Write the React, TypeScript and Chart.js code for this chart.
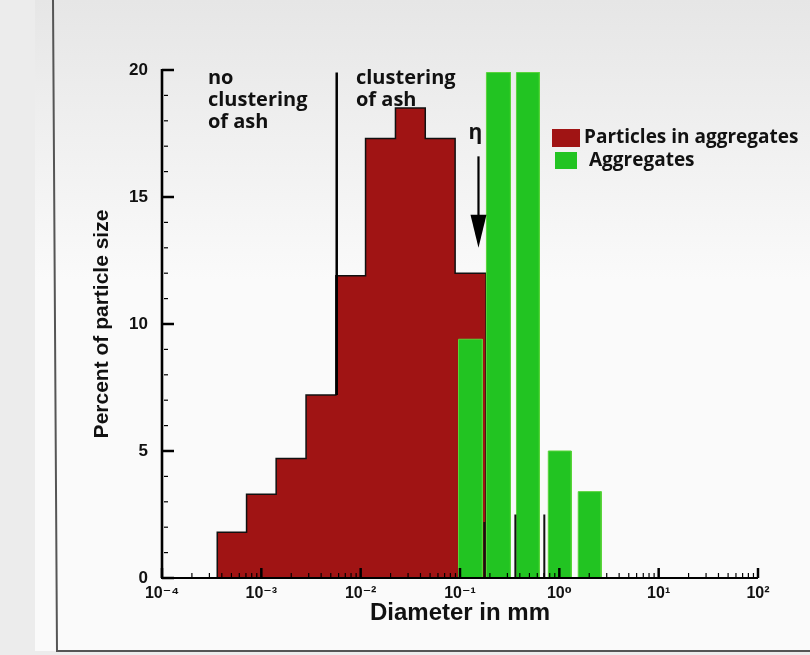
import React, { useEffect, useRef } from 'react';
import { Chart, registerables } from 'chart.js';

Chart.register(...registerables);

// ---------- data ----------
const binEdgesMm = [0.00036, 0.00071, 0.00141, 0.00282, 0.00563, 0.0112, 0.0224, 0.0447, 0.0893, 0.183];
const particlesInAggregates = [1.8, 3.3, 4.7, 7.2, 11.9, 17.3, 18.5, 17.3, 12.0];

const aggregateLeftMm = [0.0966, 0.1845, 0.37, 0.774, 1.55];
const aggregateRightMm = [0.168, 0.322, 0.63, 1.32, 2.64];
const aggregates = [9.4, 19.9, 19.9, 5.0, 3.4];

const hiddenEdgeMm = [0.176, 0.361, 0.706];
const hiddenEdgeTop = [2.2, 2.5, 2.5];

const xTickValues = [1e-4, 1e-3, 1e-2, 1e-1, 1, 10, 100];
const xTickLabels = ['10⁻⁴', '10⁻³', '10⁻²', '10⁻¹', '10⁰', '10¹', '10²'];
const yTickValues = [0, 5, 10, 15, 20];
const yTickLabels = ['0', '5', '10', '15', '20'];

const clusteringLimitMm = 0.00574;
const clusteringLineRange = [19.9, 7.2];
const etaMm = 0.1535;
const etaArrowRange = [16.6, 13.0];
const etaLabelY = 17.3;

const noClusterText = ['no', 'clustering', 'of ash'];
const clusterText = ['clustering', 'of ash'];
const noClusterXMm = 0.00029;
const clusterXMm = 0.00897;
const textRowsY = [19.45, 18.58, 17.72];

const legendLabels = ['Particles in aggregates', 'Aggregates'];

const RED = '#a01414';
const GREEN = '#22c422';
const INK = '#111111';
const SANS = "'Liberation Sans', Arial, 'DejaVu Sans', sans-serif";
const HUMANIST = "'Open Sans', 'Noto Sans', sans-serif";

// ---------- datasets built from the arrays ----------
function redPoints() {
  const pts: { x: number; y: number }[] = [{ x: binEdgesMm[0], y: 0 }];
  particlesInAggregates.forEach((v, i) => pts.push({ x: binEdgesMm[i], y: v }));
  pts.push({ x: binEdgesMm[binEdgesMm.length - 1], y: 0 });
  return pts;
}

function greenPoints() {
  const pts: { x: number; y: number }[] = [];
  aggregates.forEach((v, i) => {
    pts.push({ x: aggregateLeftMm[i], y: 0 });
    pts.push({ x: aggregateLeftMm[i], y: v });
    pts.push({ x: aggregateRightMm[i], y: v });
    pts.push({ x: aggregateRightMm[i], y: 0 });
  });
  return pts;
}

function edgePoints() {
  const pts: { x: number; y: number | null }[] = [];
  hiddenEdgeMm.forEach((x, i) => {
    pts.push({ x, y: 0 });
    pts.push({ x, y: hiddenEdgeTop[i] });
    pts.push({ x, y: null });
  });
  return pts;
}

// ---------- plugins ----------
const backgroundPlugin = {
  id: 'photoBackground',
  beforeDraw(chart: any) {
    const { ctx, width, height } = chart;
    ctx.save();
    ctx.fillStyle = '#ececec';
    ctx.fillRect(0, 0, width, height);
    const g = ctx.createLinearGradient(0, 0, 0, 280);
    g.addColorStop(0, '#e6e6e6');
    g.addColorStop(1, '#fafafa');
    ctx.fillStyle = g;
    ctx.fillRect(35, 0, width - 35, 651);
    ctx.strokeStyle = '#555';
    ctx.lineWidth = 2;
    ctx.beginPath();
    ctx.moveTo(53, 0);
    ctx.lineTo(57, 651);
    ctx.lineTo(width, 651);
    ctx.stroke();
    ctx.restore();
  },
};

const axesPlugin = {
  id: 'insideAxes',
  afterDatasetsDraw(chart: any) {
    const { ctx, chartArea, scales } = chart;
    const x = scales.x;
    const y = scales.y;
    const L = chartArea.left;
    const B = chartArea.bottom;
    ctx.save();
    ctx.strokeStyle = '#000';
    ctx.lineCap = 'butt';
    // y minor ticks
    ctx.lineWidth = 1.2;
    for (let v = 1; v < 20; v++) {
      if (v % 5 === 0) continue;
      const py = y.getPixelForValue(v);
      ctx.beginPath();
      ctx.moveTo(L + 2, py);
      ctx.lineTo(L + 6, py);
      ctx.stroke();
    }
    // x minor ticks
    for (let e = -4; e < 2; e++) {
      for (let k = 2; k <= 9; k++) {
        const px = x.getPixelForValue(k * Math.pow(10, e));
        ctx.beginPath();
        ctx.moveTo(px, B);
        ctx.lineTo(px, B - 5);
        ctx.stroke();
      }
    }
    // y major ticks
    ctx.lineWidth = 2.5;
    yTickValues.forEach((v) => {
      const py = y.getPixelForValue(v);
      ctx.beginPath();
      ctx.moveTo(L, py);
      ctx.lineTo(L + 12, py);
      ctx.stroke();
    });
    // x major ticks
    xTickValues.forEach((v) => {
      const px = x.getPixelForValue(v);
      ctx.beginPath();
      ctx.moveTo(px, B);
      ctx.lineTo(px, B - 10);
      ctx.stroke();
    });
    // axis lines
    ctx.lineWidth = 2.6;
    ctx.beginPath();
    ctx.moveTo(L, chartArea.top - 1);
    ctx.lineTo(L, B);
    ctx.stroke();
    ctx.lineWidth = 2.2;
    ctx.beginPath();
    ctx.moveTo(L - 1, B);
    ctx.lineTo(chartArea.right, B);
    ctx.stroke();
    ctx.restore();
  },
};

const annotationPlugin = {
  id: 'annotations',
  afterDatasetsDraw(chart: any) {
    const { ctx, scales } = chart;
    const x = scales.x;
    const y = scales.y;
    ctx.save();
    // clustering limit line
    const lx = x.getPixelForValue(clusteringLimitMm);
    ctx.strokeStyle = '#000';
    ctx.lineWidth = 2.5;
    ctx.beginPath();
    ctx.moveTo(lx, y.getPixelForValue(clusteringLineRange[0]));
    ctx.lineTo(lx, y.getPixelForValue(clusteringLineRange[1]));
    ctx.stroke();

    // eta arrow
    const ax = x.getPixelForValue(etaMm);
    const aTop = y.getPixelForValue(etaArrowRange[0]);
    const aTip = y.getPixelForValue(etaArrowRange[1]);
    ctx.lineWidth = 2.2;
    ctx.beginPath();
    ctx.moveTo(ax, aTop);
    ctx.lineTo(ax, aTip - 30);
    ctx.stroke();
    ctx.fillStyle = '#000';
    ctx.beginPath();
    ctx.moveTo(ax - 8, aTip - 33);
    ctx.lineTo(ax + 8, aTip - 33);
    ctx.lineTo(ax, aTip);
    ctx.closePath();
    ctx.fill();

    // texts
    ctx.fillStyle = INK;
    ctx.font = `bold 20px ${HUMANIST}`;
    ctx.textAlign = 'left';
    ctx.textBaseline = 'alphabetic';
    const nx = x.getPixelForValue(noClusterXMm);
    noClusterText.forEach((t, i) => ctx.fillText(t, nx, y.getPixelForValue(textRowsY[i])));
    const cx = x.getPixelForValue(clusterXMm);
    clusterText.forEach((t, i) => ctx.fillText(t, cx, y.getPixelForValue(textRowsY[i])));
    ctx.textAlign = 'center';
    ctx.font = `bold 21px ${HUMANIST}`;
    ctx.fillText('η', ax - 3, y.getPixelForValue(etaLabelY));
    ctx.restore();
  },
};

const legendPlugin = {
  id: 'boxLegend',
  afterDraw(chart: any) {
    const { ctx } = chart;
    ctx.save();
    ctx.fillStyle = RED;
    ctx.fillRect(552, 129, 28, 18);
    ctx.fillStyle = GREEN;
    ctx.fillRect(555, 152, 22, 17);
    ctx.fillStyle = INK;
    ctx.font = `bold 19px ${HUMANIST}`;
    ctx.textAlign = 'left';
    ctx.textBaseline = 'middle';
    ctx.fillText(legendLabels[0], 584, 138);
    ctx.fillText(legendLabels[1], 589, 161);
    ctx.restore();
  },
};

export default function App() {
  const ref = useRef<HTMLCanvasElement | null>(null);
  useEffect(() => {
    if (!ref.current) return;
    const chart = new Chart(ref.current, {
      type: 'line',
      data: {
        datasets: [
          {
            label: legendLabels[0],
            data: redPoints(),
            stepped: 'before',
            fill: 'origin',
            backgroundColor: RED,
            borderColor: '#111',
            borderWidth: 1.5,
            pointRadius: 0,
            order: 3,
          },
          {
            label: legendLabels[1],
            data: greenPoints(),
            fill: 'origin',
            backgroundColor: GREEN,
            borderColor: '#58d43a',
            borderWidth: 1,
            pointRadius: 0,
            tension: 0,
            order: 2,
          },
          {
            label: 'hidden bin edges',
            data: edgePoints(),
            fill: false,
            borderColor: '#111',
            borderWidth: 2,
            pointRadius: 0,
            spanGaps: false,
            order: 1,
          },
        ] as any,
      },
      options: {
        animation: false,
        responsive: false,
        devicePixelRatio: 1,
        layout: { padding: { top: 70, right: 52, bottom: 0, left: 0 } },
        plugins: { legend: { display: false }, tooltip: { enabled: false } },
        scales: {
          x: {
            type: 'logarithmic',
            min: 1e-4,
            max: 100,
            afterFit: (s: any) => {
              s.height = 77;
            },
            afterBuildTicks: (s: any) => {
              s.ticks = xTickValues.map((v) => ({ value: v }));
            },
            grid: { display: false, drawTicks: false },
            border: { display: false },
            ticks: {
              autoSkip: false,
              maxRotation: 0,
              padding: 6,
              color: INK,
              font: { family: SANS, weight: 'bold', size: 16 },
              callback: (_v: any, i: number) => xTickLabels[i],
            },
            title: {
              display: true,
              text: 'Diameter in mm',
              color: INK,
              font: { family: SANS, weight: 'bold', size: 24 },
              padding: { top: 0, bottom: 27 },
            },
          },
          y: {
            type: 'linear',
            min: 0,
            max: 20,
            afterFit: (s: any) => {
              s.width = 162;
            },
            afterBuildTicks: (s: any) => {
              s.ticks = yTickValues.map((v) => ({ value: v }));
            },
            grid: { display: false, drawTicks: false },
            border: { display: false },
            ticks: {
              padding: 14,
              color: INK,
              font: { family: SANS, weight: 'bold', size: 17 },
              callback: (_v: any, i: number) => yTickLabels[i],
            },
            title: {
              display: true,
              text: 'Percent of particle size',
              color: INK,
              font: { family: SANS, weight: 'bold', size: 21 },
              padding: { top: 90, bottom: 0 },
            },
          },
        },
      } as any,
      plugins: [backgroundPlugin, axesPlugin, annotationPlugin, legendPlugin],
    });
    return () => chart.destroy();
  }, []);

  return (
    <div style={{ position: 'absolute', left: 0, top: 0, width: 810, height: 655 }}>
      <canvas ref={ref} width={810} height={655} style={{ display: 'block', width: 810, height: 655 }} />
    </div>
  );
}
